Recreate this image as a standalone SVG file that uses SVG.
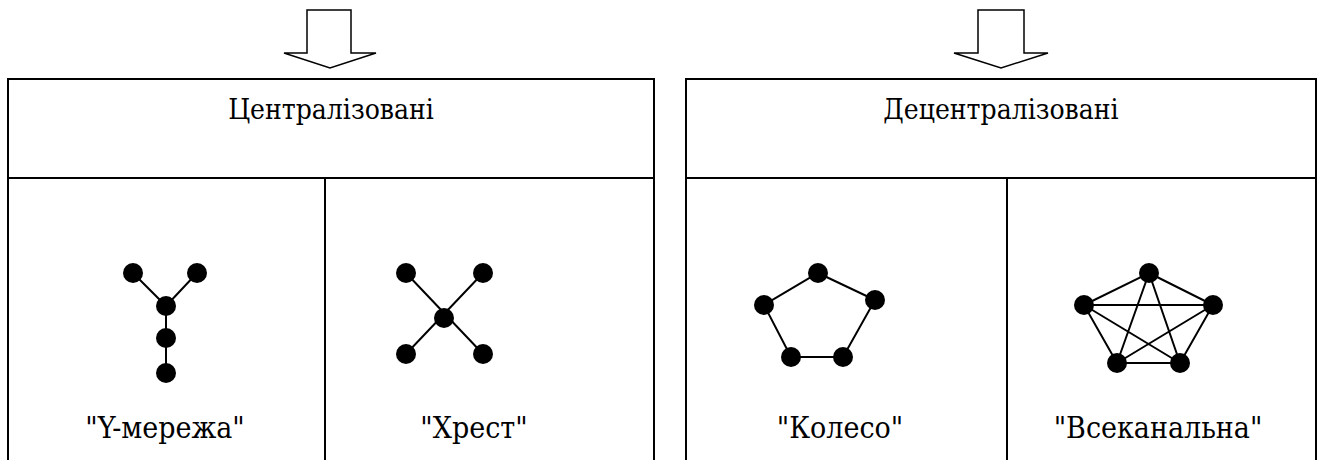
<svg xmlns="http://www.w3.org/2000/svg" width="1326" height="460" viewBox="0 0 1326 460">
<style>
.frame{fill:none;stroke:#000;stroke-width:2}
.arrow{fill:#fff;stroke:#000;stroke-width:1.5;stroke-linejoin:miter}
.edge{stroke:#000;stroke-width:2;fill:none}
.dot{fill:#000}
text{fill:#000;text-anchor:middle;font-family:"DejaVu Serif Condensed","DejaVu Serif",serif;font-stretch:condensed;font-size:30px}
.h{font-size:28px}
</style>
<rect width="1326" height="460" fill="#fff"/>
<g id="arrow-left"><polygon class="arrow" points="307,10 351,10 351,53 376,53 330,68 284,53 307,53"/></g>
<g id="arrow-right"><polygon class="arrow" points="978,10 1024,10 1024,53 1048,53 1001,68 954,53 978,53"/></g>
<g id="centralized">
<path class="frame" d="M8,470 V79 H654 V470 M8,178 H654 M325,178 V470"/>
<text class="h" x="331" y="119">Централізовані</text>
</g>
<g id="decentralized">
<path class="frame" d="M686,470 V79 H1316 V470 M686,178 H1316 M1007,178 V470"/>
<text class="h" x="1001" y="119">Децентралізовані</text>
</g>
<g id="connectors">
<path class="edge" d="M133,273 L166,306 L197,273 M166,306 V373"/>
<path class="edge" d="M406,273 L483,354 M483,273 L406,354"/>
<path class="edge" d="M818,273 L875,300 L843,357 L791,357 L764,305 Z"/>
<path class="edge" d="M1149,273 L1213,305 L1180,363 L1117,363 L1084,305 Z M1149,273 L1117,363 M1149,273 L1180,363 M1084,305 L1213,305 M1084,305 L1180,363 M1213,305 L1117,363"/>
</g>
<g id="y-network">
<circle class="dot" cx="133" cy="273" r="10"/><circle class="dot" cx="197" cy="273" r="10"/><circle class="dot" cx="166" cy="306" r="10"/><circle class="dot" cx="166" cy="338" r="10"/><circle class="dot" cx="166" cy="373" r="10"/>
<text x="165" y="438">"Y-мережа"</text>
</g>
<g id="cross">
<circle class="dot" cx="406" cy="273" r="10"/><circle class="dot" cx="483" cy="273" r="10"/><circle class="dot" cx="444" cy="318" r="10"/><circle class="dot" cx="406" cy="354" r="10"/><circle class="dot" cx="483" cy="354" r="10"/>
<text x="474" y="438">"Хрест"</text>
</g>
<g id="wheel">
<circle class="dot" cx="818" cy="273" r="10"/><circle class="dot" cx="875" cy="300" r="10"/><circle class="dot" cx="843" cy="357" r="10"/><circle class="dot" cx="791" cy="357" r="10"/><circle class="dot" cx="764" cy="305" r="10"/>
<text x="840" y="438">"Колесо"</text>
</g>
<g id="all-channel">
<circle class="dot" cx="1149" cy="273" r="10"/><circle class="dot" cx="1213" cy="305" r="10"/><circle class="dot" cx="1180" cy="363" r="10"/><circle class="dot" cx="1117" cy="363" r="10"/><circle class="dot" cx="1084" cy="305" r="10"/>
<text x="1158" y="438">"Всеканальна"</text>
</g>
</svg>
